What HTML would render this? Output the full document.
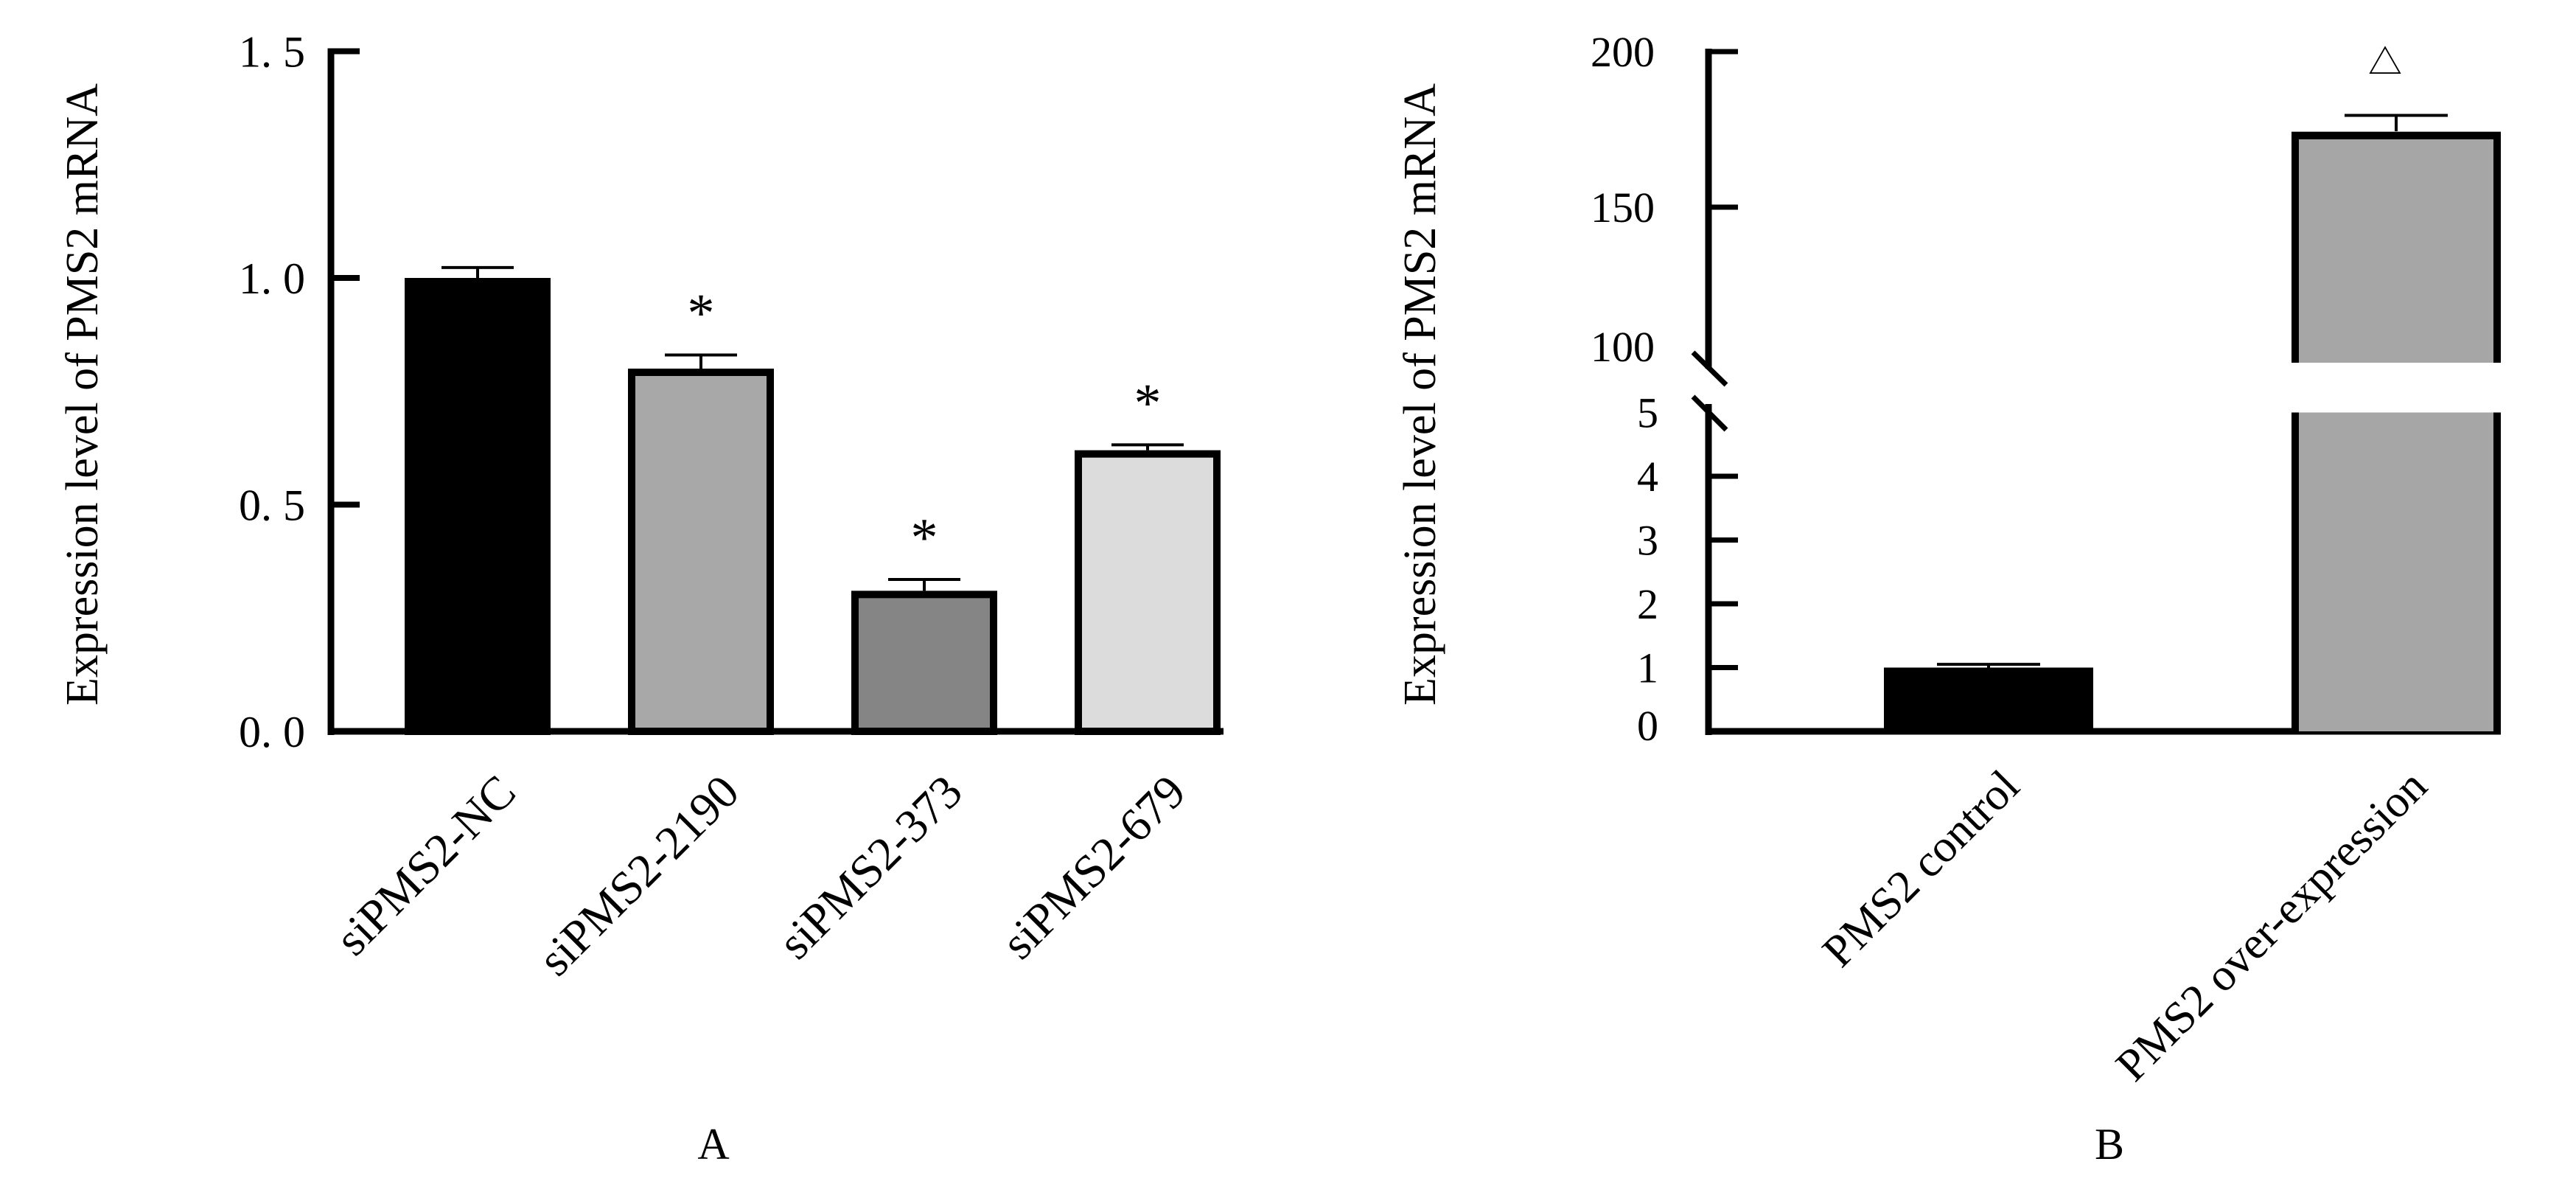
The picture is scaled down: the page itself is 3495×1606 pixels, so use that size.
<!DOCTYPE html>
<html><head><meta charset="utf-8"><style>
html,body{margin:0;padding:0;background:#fff;}
svg{display:block;font-family:"Liberation Serif","Noto Serif CJK SC",serif;}
</style></head><body>
<svg id="chart" width="3495" height="1606" viewBox="0 0 3495 1606" xmlns="http://www.w3.org/2000/svg">
<g id="pa"></g>
<g id="pb"></g>
<text x="968" y="1572" font-size="60" text-anchor="middle">A</text>
<text x="2862" y="1572" font-size="60" text-anchor="middle">B</text>
<text transform="translate(132,535) rotate(-90)" font-size="62" text-anchor="middle">Expression level of PMS2 mRNA</text>
<text transform="translate(1947,535) rotate(-90)" font-size="62" text-anchor="middle">Expression level of PMS2 mRNA</text>
</svg>
<script>
const catsA = ["siPMS2-NC","siPMS2-2190","siPMS2-373","siPMS2-679"];
const valsA = [1.0, 0.80, 0.31, 0.62];
const errA = [0.023, 0.03, 0.025, 0.012];
const sigA = ["", "*", "*", "*"];
const colorsA = ["#000000","#a8a8a8","#858585","#dcdcdc"];
const ticksA = [0, 0.5, 1.0, 1.5];
const tickLabelsA = ["0. 0","0. 5","1. 0","1. 5"];

const catsB = ["PMS2 control","PMS2 over-expression"];
const valsB = [1.0, 174.4];
const errB = [0.05, 5.1];
const sigB = ["", "\u25B3"];
const colorsB = ["#000000","#a6a6a6"];
const ticksBLow = [0,1,2,3,4,5];
const ticksBHigh = [100,150,200];

const NS = "http://www.w3.org/2000/svg";
function mk(parent, tag, attrs){const e=document.createElementNS(NS,tag);for(const k in attrs)e.setAttribute(k,attrs[k]);parent.appendChild(e);return e;}

// Panel A
const pa = document.getElementById('pa');
const yA = v => 992 - v*615;
const xA = i => 648 + i*303;
const bwA = 198;
const axisXA = 449, axisEndA = xA(3)+bwA/2+4;
let e;
e = mk(pa,'line',{x1:axisXA,y1:yA(1.5)-4,x2:axisXA,y2:yA(0)+5,stroke:'#000','stroke-width':9});


e = mk(pa,'line',{x1:axisXA-4,y1:yA(0),x2:axisEndA,y2:yA(0),stroke:'#000','stroke-width':9});


ticksA.forEach((t,i)=>{
  e = mk(pa,'line',{x1:axisXA,y1:yA(t),x2:488,y2:yA(t),stroke:'#000','stroke-width':8});
  
  
  e = mk(pa,'text',{x:414,y:yA(t)+21,'font-size':60,'text-anchor':'end'});
  e.textContent = tickLabelsA[i];
  
  
});
catsA.forEach((c,i)=>{
  const cx=xA(i), top=yA(valsA[i]), et=yA(valsA[i]+errA[i]);
  e = mk(pa,'line',{x1:cx,y1:top,x2:cx,y2:et,stroke:'#000','stroke-width':4});
  
  
  e = mk(pa,'line',{x1:cx-49,y1:et,x2:cx+49,y2:et,stroke:'#000','stroke-width':4});
  
  
  e = mk(pa,'rect',{x:cx-bwA/2+5,y:top+5,width:bwA-10,height:yA(0)-top-5,fill:colorsA[i],stroke:'#000','stroke-width':10});
  
  
  if(sigA[i]){
    e = mk(pa,'text',{x:cx,y:et-32,'font-size':74,'text-anchor':'middle'});
    e.textContent = sigA[i];
    
    
  }
  e = mk(pa,'text',{transform:`translate(${cx+55},1078) rotate(-45)`,'font-size':64,'text-anchor':'end'});
  e.textContent = c;
  
  
});

// Panel B
const pb = document.getElementById('pb');
const yLow = v => 992 - v*86.5;
const yHigh = v => 70 + (200-v)*4.22;
const xB = i => 2698 + i*553;
const bwB = 284;
const axisXB = 2318, axisEndB = xB(1)+bwB/2;
e = mk(pb,'line',{x1:axisXB,y1:yHigh(200)-4,x2:axisXB,y2:500,stroke:'#000','stroke-width':9});


e = mk(pb,'line',{x1:axisXB,y1:548,x2:axisXB,y2:yLow(0)+5,stroke:'#000','stroke-width':9});


e = mk(pb,'line',{x1:2297,y1:478,x2:2342,y2:522,stroke:'#000','stroke-width':7});


e = mk(pb,'line',{x1:2297,y1:538,x2:2342,y2:583,stroke:'#000','stroke-width':7});


e = mk(pb,'line',{x1:axisXB-4,y1:yLow(0),x2:axisEndB,y2:yLow(0),stroke:'#000','stroke-width':9});


ticksBLow.forEach(t=>{
  if(t>0 && t<5){
    e = mk(pb,'line',{x1:axisXB,y1:yLow(t),x2:2358,y2:yLow(t),stroke:'#000','stroke-width':7});
    
    
  }
  e = mk(pb,'text',{x:2250,y:yLow(t)+(t===0?12:20),'font-size':58,'text-anchor':'end'});
  e.textContent = String(t);
  
  
});
ticksBHigh.forEach(t=>{
  if(t>100){
    e = mk(pb,'line',{x1:axisXB,y1:yHigh(t),x2:2358,y2:yHigh(t),stroke:'#000','stroke-width':7});
    
    
  }
  e = mk(pb,'text',{x:2245,y:yHigh(t)+(t===100?-2:20),'font-size':58,'text-anchor':'end'});
  e.textContent = String(t);
  
  
});
catsB.forEach((c,i)=>{
  const cx=xB(i), v=valsB[i];
  const broken = v>5;
  const top = broken ? yHigh(v) : yLow(v);
  const et = broken ? yHigh(v+errB[i]) : yLow(v+errB[i]);
  e = mk(pb,'line',{x1:cx,y1:top,x2:cx,y2:et,stroke:'#000','stroke-width':4});
  
  
  e = mk(pb,'line',{x1:cx-70,y1:et,x2:cx+70,y2:et,stroke:'#000','stroke-width':4});
  
  
  if(broken){
    const l=cx-bwB/2, r=cx+bwB/2;
    e = mk(pb,'rect',{x:l,y:top,width:bwB,height:yHigh(100)-top,fill:colorsB[i]});
    
    
    e = mk(pb,'path',{d:`M${l+5},${yHigh(100)} V${top+6} H${r-5} V${yHigh(100)}`,fill:'none',stroke:'#000','stroke-width':10});
    
    
    e = mk(pb,'rect',{x:l,y:yLow(5),width:bwB,height:yLow(0)-yLow(5),fill:colorsB[i]});
    
    
    e = mk(pb,'path',{d:`M${l+5},${yLow(5)} V${yLow(0)} M${r-5},${yLow(5)} V${yLow(0)}`,fill:'none',stroke:'#000','stroke-width':10});
    
    
  } else {
    e = mk(pb,'rect',{x:cx-bwB/2,y:top,width:bwB,height:yLow(0)-top,fill:colorsB[i]});
    
    
  }
  if(sigB[i]){
    e = mk(pb,'text',{x:cx-15,y:et-56,'font-size':46,'text-anchor':'middle'});
    e.textContent = sigB[i];
    
    
  }
  e = mk(pb,'text',{transform:`translate(${cx+45},1070) rotate(-45)`,'font-size':62,'text-anchor':'end'});
  e.textContent = c;
  
  
});
</script>
</body></html>
